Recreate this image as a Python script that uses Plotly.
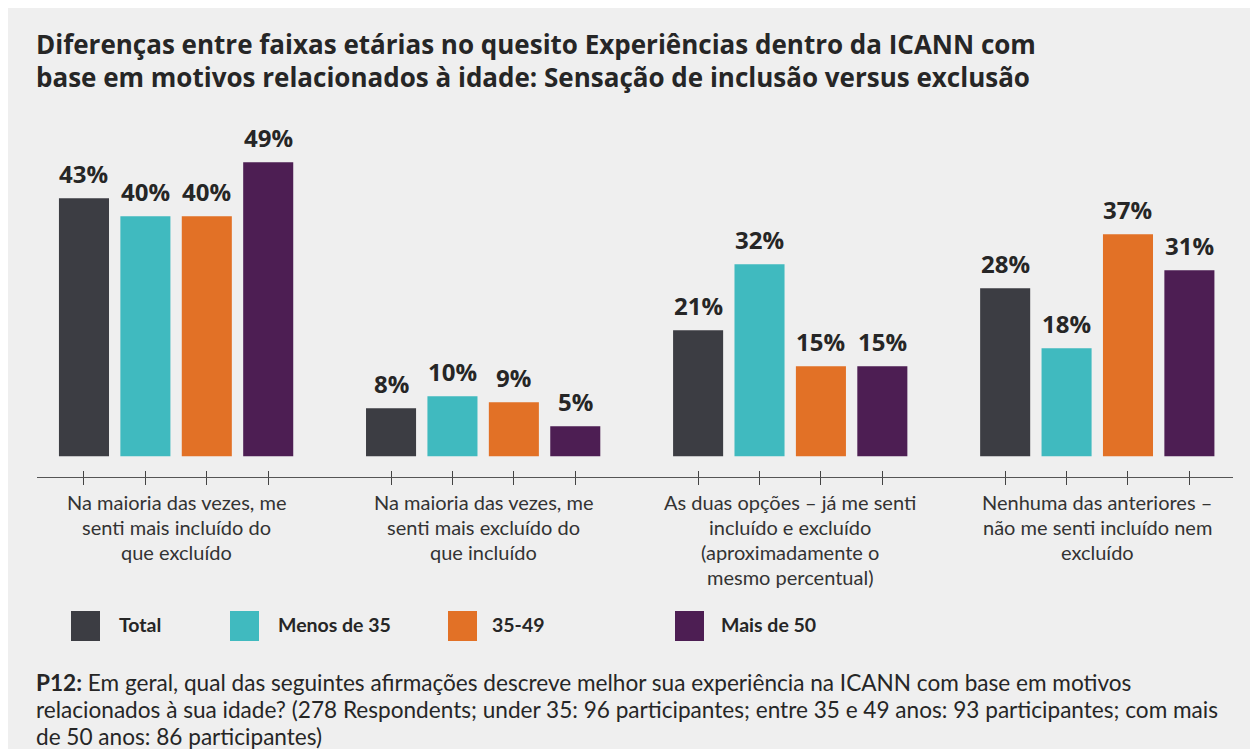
import plotly.graph_objects as go

# ---------------- data ----------------
categories = [
    "Na maioria das vezes, me<br>senti mais incluído do<br>que excluído",
    "Na maioria das vezes, me<br>senti mais excluído do<br>que incluído",
    "As duas opções – já me senti<br>incluído e excluído<br>(aproximadamente o<br>mesmo percentual)",
    "Nenhuma das anteriores –<br>não me senti incluído nem<br>excluído",
]
series_names = ["Total", "Menos de 35", "35-49", "Mais de 50"]
total = [43, 8, 21, 28]
menos_35 = [40, 10, 32, 18]
de_35_49 = [40, 9, 15, 37]
mais_50 = [49, 5, 15, 31]
series_values = [total, menos_35, de_35_49, mais_50]
colors = ["#3c3d43", "#40babf", "#e27126", "#4d1e53"]

title_lines = [
    "Diferenças entre faixas etárias no quesito Experiências dentro da ICANN com",
    "base em motivos relacionados à idade: Sensação de inclusão versus exclusão",
]
footnote_lines = [
    "<b>P12:</b> Em geral, qual das seguintes afirmações descreve melhor sua experiência na ICANN com base em motivos",
    "relacionados à sua idade? (278 Respondents; under 35: 96 participantes; entre 35 e 49 anos: 93 participantes; com mais",
    "de 50 anos: 86 participantes)",
]

# ---------------- layout geometry ----------------
W, H = 1258, 749
OFF = 8  # page body margin
ML, MR, MT, MB = 29, 33, 122, 280
PW, PH = W - ML - MR, H - MT - MB

def px_x(px):  # screen px -> paper
    return (px - OFF - ML) / PW

def px_y(py):
    return (H - MB - (py - OFF)) / PH

FONT = "Lato"
TXT = "#262626"

n_series = len(series_names)
stride = n_series + 1

fig = go.Figure()
tickvals = []
for s, (name, vals, col) in enumerate(zip(series_names, series_values, colors)):
    xs = [g * stride + s for g in range(len(categories))]
    tickvals += xs
    fig.add_trace(go.Bar(
        x=xs, y=vals, name=name, marker=dict(color=col, line=dict(width=0)),
        width=0.815, showlegend=False, hoverinfo="skip",
    ))
    for x, v in zip(xs, vals):
        fig.add_annotation(
            x=x, y=v, xref="x", yref="y", text=f"<b>{v}%</b>", showarrow=False,
            yanchor="bottom", yshift=6,
            font=dict(family="Open Sans", size=24, color=TXT),
        )

# category labels (centered under each group), one line at a time
for g, cat in enumerate(categories):
    cx = g * stride + (n_series - 1) / 2
    for i, line in enumerate(cat.split("<br>")):
        fig.add_annotation(
            x=cx, xref="x", y=px_y(502 + i * 25), yref="paper", text=line,
            showarrow=False, xanchor="center", yanchor="middle",
            font=dict(family=FONT, size=20, color="#333333"),
        )

# title
for i, line in enumerate(title_lines):
    fig.add_annotation(
        x=px_x(34), y=px_y(44 + i * 33), xref="paper", yref="paper",
        text=f"<b>{line}</b>", showarrow=False, xanchor="left", yanchor="middle",
        font=dict(family="Open Sans", size=26, color=TXT),
    )

# legend (manual)
sq_x = [71, 230, 448, 675]
txt_x = [117, 276, 490, 719]
for name, col, sx, tx in zip(series_names, colors, sq_x, txt_x):
    fig.add_shape(type="rect", xref="paper", yref="paper",
                  x0=px_x(sx), x1=px_x(sx + 29), y0=px_y(641), y1=px_y(611),
                  fillcolor=col, line=dict(width=0))
    fig.add_annotation(
        x=px_x(tx), y=px_y(624), xref="paper", yref="paper", text=f"<b>{name}</b>",
        showarrow=False, xanchor="left", yanchor="middle",
        font=dict(family=FONT, size=19.5, color=TXT),
    )

# footnote
for i, line in enumerate(footnote_lines):
    fig.add_annotation(
        x=px_x(34), y=px_y(682 + i * 27), xref="paper", yref="paper", text=line,
        showarrow=False, xanchor="left", yanchor="middle",
        font=dict(family=FONT, size=22.6, color=TXT),
    )

xr = [-0.765, 18.71]
bottom = -3.45
fig.update_layout(
    width=W, height=H,
    margin=dict(l=ML, r=MR, t=MT, b=MB, pad=0),
    paper_bgcolor="#efefef", plot_bgcolor="#efefef",
    barmode="overlay", showlegend=False,
    xaxis=dict(range=xr, tickvals=tickvals, ticktext=[""] * len(tickvals),
               ticks="outside", ticklen=7, tickwidth=1, tickcolor="#444444",
               showline=True, linecolor="#555555", linewidth=1,
               showgrid=False, zeroline=False, fixedrange=True),
    xaxis2=dict(range=xr, overlaying="x", side="bottom", anchor="y",
                tickvals=tickvals, ticktext=[""] * len(tickvals),
                ticks="inside", ticklen=6, tickwidth=1, tickcolor="#444444",
                showline=False, showgrid=False, zeroline=False),
    yaxis=dict(range=[bottom, bottom + PH / 6.0], visible=False,
               showgrid=False, zeroline=False),
    font=dict(family=FONT, color=TXT),
)
# invisible trace to activate xaxis2
fig.add_trace(go.Scatter(x=[xr[0]], y=[0], xaxis="x2", mode="markers",
                         marker=dict(opacity=0), showlegend=False, hoverinfo="skip"))

fig.write_html("out.html")
